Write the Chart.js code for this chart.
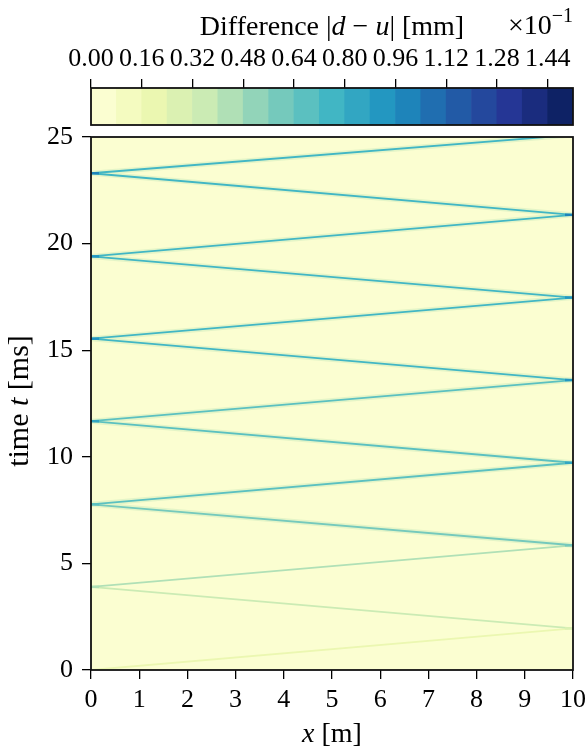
<!DOCTYPE html>
<html>
<head>
<meta charset="utf-8">
<title>Difference |d - u|</title>
<script src="https://cdn.jsdelivr.net/npm/chart.js@4.4.1/dist/chart.umd.min.js"></script>
<style>
  body { margin: 0; background: #fff; }
  #wrap { position: relative; width: 587px; height: 748px; }
  canvas { position: absolute; left: 0; top: 0; }
</style>
</head>
<body>
<div id="wrap">
  <canvas id="main" width="587" height="748"></canvas>
  <canvas id="cbar" width="587" height="132"></canvas>
</div>
<script>
// reflection points of the wave front: position x [m], time t [ms]
var hitX = [0, 10, 0, 10, 0, 10, 0, 10, 0, 10, 0, 10, 0, 10];
var hitT = [0, 1.95, 3.9, 5.85, 7.77, 9.72, 11.67, 13.6, 15.54, 17.47, 19.4, 21.35, 23.3, 25.1];
// |d-u| along each leg between two reflections (x 1e-1 mm)
var legDiff = [0.2, 0.34, 0.44, 0.6, 0.66, 0.68, 0.7, 0.72, 0.72, 0.74, 0.76, 0.76, 0.76];
// peak |d-u| right at the reflection points (x 1e-1 mm)
var hitDiff = [0, 0.3, 0.4, 0.6, 0.7, 0.8, 0.85, 0.9, 0.9, 0.95, 0.95, 1.0, 1.0, 0];
// contour levels of the colour bar and its tick labels
var levels = [0, 0.08, 0.16, 0.24, 0.32, 0.40, 0.48, 0.56, 0.64, 0.72, 0.80,
              0.88, 0.96, 1.04, 1.12, 1.20, 1.28, 1.36, 1.44, 1.52];
var cbTicks = [0, 0.16, 0.32, 0.48, 0.64, 0.80, 0.96, 1.12, 1.28, 1.44];
var xTicks = [0, 1, 2, 3, 4, 5, 6, 7, 8, 9, 10];
var yTicks = [0, 5, 10, 15, 20, 25];

var FONT = 'Liberation Serif';
var ylgnbu = ['#ffffd9', '#edf8b1', '#c7e9b4', '#7fcdbb', '#41b6c4',
              '#1d91c0', '#225ea8', '#253494', '#081d58'];

function hex(c) {
  return [parseInt(c.substr(1, 2), 16), parseInt(c.substr(3, 2), 16), parseInt(c.substr(5, 2), 16)];
}

function cmap(f) {
  f = Math.max(0, Math.min(1, f));
  var p = f * (ylgnbu.length - 1);
  var i = Math.min(Math.floor(p), ylgnbu.length - 2);
  var a = hex(ylgnbu[i]), b = hex(ylgnbu[i + 1]), w = p - i;
  return 'rgb(' + [0, 1, 2].map(function (k) { return Math.round(a[k] + (b[k] - a[k]) * w); }).join(',') + ')';
}

// colour of the filled contour band that holds v
function bandColor(v) {
  var n = levels.length - 1;
  var i = 0;
  while (i < n - 1 && v >= levels[i + 1]) i++;
  return cmap((i + 0.5) / n);
}

// text made of plain and italic pieces, drawn on one baseline
function richText(ctx, parts, x, y, align, size) {
  var w = 0;
  parts.forEach(function (p) {
    ctx.font = (p.it ? 'italic ' : '') + (p.size || size) + 'px "' + FONT + '"';
    p.w = ctx.measureText(p.t).width;
    w += p.w;
  });
  var cx = align === 'right' ? x - w : (align === 'center' ? x - w / 2 : x);
  ctx.fillStyle = '#000';
  ctx.textBaseline = 'alphabetic';
  ctx.textAlign = 'left';
  parts.forEach(function (p) {
    ctx.font = (p.it ? 'italic ' : '') + (p.size || size) + 'px "' + FONT + '"';
    ctx.fillText(p.t, cx, y + (p.dy || 0));
    cx += p.w;
  });
}

var framePlugin = {
  id: 'frame',
  beforeDatasetsDraw: function (chart, args, opts) {
    if (!opts.fill) return;
    var a = chart.chartArea, ctx = chart.ctx;
    ctx.save();
    ctx.fillStyle = opts.fill;
    ctx.fillRect(a.left, a.top, a.right - a.left, a.bottom - a.top);
    ctx.restore();
  },
  afterDraw: function (chart, args, opts) {
    var a = chart.chartArea, ctx = chart.ctx;
    ctx.save();
    ctx.strokeStyle = '#111';
    ctx.lineWidth = 1.8;
    ctx.strokeRect(a.left, a.top, a.right - a.left, a.bottom - a.top);
    (opts.labels || []).forEach(function (l) {
      ctx.save();
      ctx.translate(l.x, l.y);
      if (l.rot) ctx.rotate(l.rot);
      richText(ctx, l.parts, 0, 0, l.align, l.size || 28);
      ctx.restore();
    });
    ctx.restore();
  }
};

var tickFont = { family: FONT, size: 26 };

function tickAxis(ticks, extra) {
  var ax = {
    type: 'linear',
    afterBuildTicks: function (s) { s.ticks = ticks.map(function (v) { return { value: v }; }); },
    grid: { drawOnChartArea: false, drawTicks: true, tickLength: 9, color: '#000', lineWidth: 1.3 },
    border: { display: false },
    ticks: { font: tickFont, color: '#000', maxRotation: 0, autoSkip: false }
  };
  return Object.assign(ax, extra);
}

// keep the plot box fixed; tick labels may hang over the edges
function fixSize(w, h) {
  return function (s) {
    if (w) s.width = w;
    if (h) s.height = h;
    s.paddingLeft = 0; s.paddingRight = 0; s.paddingTop = 0; s.paddingBottom = 0;
  };
}

// colour bar
var bands = [], bandCols = [];
for (var i = 0; i < levels.length - 1; i++) {
  bands.push({ x: [levels[i], levels[i + 1]], y: 'c' });
  bandCols.push(cmap((i + 0.5) / (levels.length - 1)));
}

new Chart(document.getElementById('cbar'), {
  type: 'bar',
  data: {
    labels: ['c'],
    datasets: [{
      data: bands,
      backgroundColor: bandCols,
      borderWidth: 0,
      barPercentage: 1,
      categoryPercentage: 1
    }]
  },
  options: {
    indexAxis: 'y',
    responsive: false,
    animation: false,
    events: [],
    layout: { padding: { left: 91, right: 14, top: 0, bottom: 7 } },
    scales: {
      x: tickAxis(cbTicks, {
        position: 'top', min: 0, max: 1.52,
        afterFit: fixSize(0, 88),
        ticks: { font: tickFont, color: '#000', maxRotation: 0, autoSkip: false, padding: 4,
                 callback: function (v) { return v.toFixed(2); } }
      }),
      y: { display: false }
    },
    plugins: {
      legend: { display: false },
      tooltip: { enabled: false },
      frame: {
        labels: [
          { x: 332, y: 35, align: 'center', parts: [
            { t: 'Difference |' }, { t: 'd', it: true }, { t: ' \u2212 ' }, { t: 'u', it: true }, { t: '| [mm]' }] },
          { x: 573, y: 34, align: 'right', parts: [
            { t: '\u00d710' }, { t: '\u22121', size: 20, dy: -12 }] }
        ]
      }
    }
  },
  plugins: [framePlugin]
});

// wave front travelling back and forth
var path = hitX.map(function (x, i) { return { x: x, y: hitT[i] }; });

new Chart(document.getElementById('main'), {
  type: 'scatter',
  data: {
    datasets: [{
      // darker spots where the front hits the ends
      data: path,
      showLine: false,
      pointStyle: 'line',
      pointRadius: hitDiff.map(function (v) { return v > 0 ? 8 : 0; }),
      pointBorderWidth: 2.5,
      pointBorderColor: hitDiff.map(bandColor),
      clip: 0
    }, {
      data: path,
      showLine: true,
      borderWidth: 1.8,
      pointRadius: 0,
      clip: 0,
      segment: {
        borderColor: function (c) { return bandColor(legDiff[c.p0DataIndex]); }
      }
    }, {
      // soft fringe around the front
      data: path,
      showLine: true,
      borderWidth: 5,
      pointRadius: 0,
      clip: 0,
      segment: {
        borderColor: function (c) {
          return legDiff[c.p0DataIndex] < 0.5 ? 'rgba(0,0,0,0)' : 'rgba(205, 236, 190, 0.5)';
        }
      }
    }]
  },
  options: {
    responsive: false,
    animation: false,
    events: [],
    layout: { padding: { left: 0, right: 14, top: 137, bottom: 0 } },
    scales: {
      x: tickAxis(xTicks, {
        min: 0, max: 10,
        afterFit: fixSize(0, 78),
        ticks: { font: tickFont, color: '#000', maxRotation: 0, autoSkip: false, padding: 6 }
      }),
      y: tickAxis(yTicks, {
        min: 0, max: 25,
        afterFit: fixSize(91, 0),
        ticks: { font: tickFont, color: '#000', autoSkip: false, padding: 9 }
      })
    },
    plugins: {
      legend: { display: false },
      tooltip: { enabled: false },
      frame: {
        fill: bandColor(0),
        labels: [
          { x: 332, y: 742, align: 'center', parts: [{ t: 'x', it: true }, { t: ' [m]' }] },
          { x: 28, y: 401, rot: -Math.PI / 2, align: 'center', size: 30, parts: [
            { t: 'time ' }, { t: 't', it: true }, { t: ' [ms]' }] }
        ]
      }
    }
  },
  plugins: [framePlugin]
});
</script>
</body>
</html>
